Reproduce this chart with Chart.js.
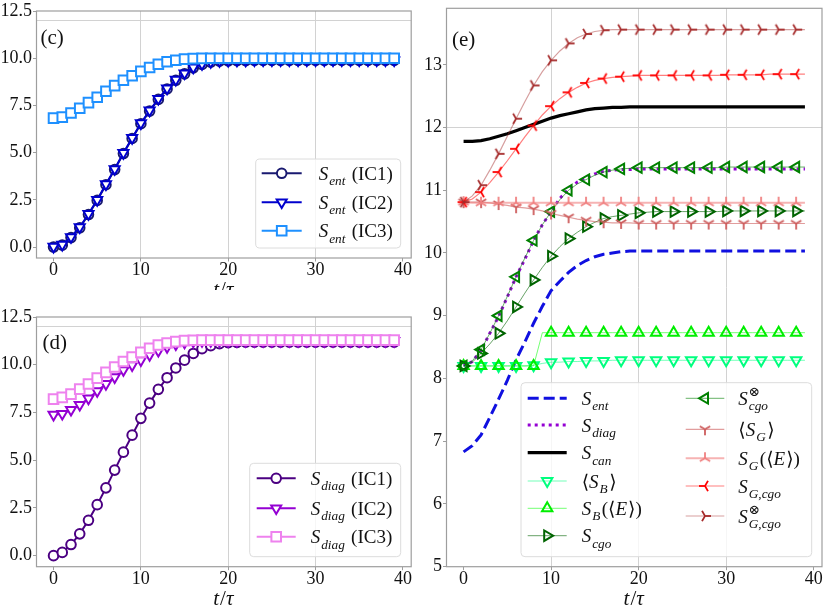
<!DOCTYPE html>
<html>
<head>
<meta charset="utf-8">
<script src="https://cdn.jsdelivr.net/npm/chart.js@4.4.0/dist/chart.umd.min.js"></script>
<style>
  html, body { margin: 0; padding: 0; background: #fff; }
  #page { position: relative; width: 830px; height: 610px; overflow: hidden; }
  .pane { position: absolute; }
</style>
</head>
<body>
<div id="page">
  <div class="pane" style="left:0;top:0;width:420px;height:290px"><canvas id="panelC" width="420" height="290"></canvas></div>
  <div class="pane" style="left:0;top:290px;width:420px;height:320px"><canvas id="panelD" width="420" height="320"></canvas></div>
  <div class="pane" style="left:420px;top:0;width:410px;height:610px"><canvas id="panelE" width="410" height="610"></canvas></div>
</div>
<script>
// ─── Data ───────────────────────────────────────────────────
const tau = [0, 1, 2, 3, 4, 5, 6, 7, 8, 9, 10, 11, 12, 13, 14, 15, 16, 17, 18, 19,
             20, 21, 22, 23, 24, 25, 26, 27, 28, 29, 30, 31, 32, 33, 34, 35, 36, 37, 38, 39];

const xTicks = [0, 10, 20, 30, 40];
const xGrid = [10, 20, 30];
const yTicksCD = [0, 2.5, 5, 7.5, 10, 12.5];
const yTicksE = [5, 6, 7, 8, 9, 10, 11, 12, 13];
const yGrid = [12];

// panel (c)
const sEntIC1 = [0.00, 0.10, 0.50, 1.02, 1.72, 2.47, 3.30, 4.10, 4.95, 5.75,
                 6.53, 7.20, 7.82, 8.37, 8.83, 9.17, 9.49, 9.67, 9.79, 9.84,
                 9.86, 9.87, 9.87, 9.88, 9.88, 9.88, 9.88, 9.88, 9.88, 9.88,
                 9.88, 9.88, 9.88, 9.88, 9.88, 9.88, 9.88, 9.88, 9.88, 9.88];
const sEntIC2 = [0.02, 0.13, 0.53, 1.05, 1.75, 2.50, 3.33, 4.13, 4.98, 5.78,
                 6.56, 7.23, 7.85, 8.40, 8.86, 9.20, 9.51, 9.69, 9.80, 9.85,
                 9.87, 9.88, 9.88, 9.89, 9.89, 9.89, 9.89, 9.89, 9.89, 9.89,
                 9.89, 9.89, 9.89, 9.89, 9.89, 9.89, 9.89, 9.89, 9.89, 9.89];
const sEntIC3 = [6.83, 6.88, 7.10, 7.35, 7.65, 7.93, 8.25, 8.55, 8.83, 9.07,
                 9.30, 9.51, 9.68, 9.81, 9.89, 9.95, 9.98, 9.99, 10.00, 10.00,
                 10.00, 10.00, 10.00, 10.00, 10.00, 10.00, 10.00, 10.00, 10.00, 10.00,
                 10.00, 10.00, 10.00, 10.00, 10.00, 10.00, 10.00, 10.00, 10.00, 10.00];

// panel (d)
const sDiagIC1 = [0.00, 0.17, 0.58, 1.14, 1.85, 2.67, 3.55, 4.48, 5.42, 6.31,
                  7.19, 7.99, 8.71, 9.32, 9.83, 10.24, 10.59, 10.84, 11.00, 11.10,
                  11.15, 11.17, 11.18, 11.18, 11.18, 11.18, 11.18, 11.18, 11.18, 11.18,
                  11.18, 11.18, 11.18, 11.18, 11.18, 11.18, 11.18, 11.18, 11.18, 11.18];
const sDiagIC2 = [7.38, 7.43, 7.64, 7.90, 8.23, 8.62, 8.99, 9.35, 9.72, 9.98,
                  10.24, 10.51, 10.73, 10.93, 11.07, 11.17, 11.22, 11.24, 11.25, 11.25,
                  11.25, 11.25, 11.25, 11.25, 11.25, 11.25, 11.25, 11.25, 11.25, 11.25,
                  11.25, 11.25, 11.25, 11.25, 11.25, 11.25, 11.25, 11.25, 11.25, 11.25];
const sDiagIC3 = [8.20, 8.29, 8.46, 8.72, 8.99, 9.30, 9.60, 9.88, 10.17, 10.40,
                  10.65, 10.86, 11.03, 11.14, 11.21, 11.26, 11.28, 11.29, 11.29, 11.29,
                  11.29, 11.29, 11.29, 11.29, 11.29, 11.29, 11.29, 11.29, 11.29, 11.29,
                  11.29, 11.29, 11.29, 11.29, 11.29, 11.29, 11.29, 11.29, 11.29, 11.29];

// panel (e)
const eEnt = [6.83, 6.93, 7.10, 7.38, 7.67, 7.97, 8.30, 8.58, 8.88, 9.15,
              9.40, 9.55, 9.69, 9.80, 9.88, 9.94, 9.98, 10.00, 10.02, 10.03,
              10.03, 10.03, 10.03, 10.03, 10.03, 10.03, 10.03, 10.03, 10.03, 10.03,
              10.03, 10.03, 10.03, 10.03, 10.03, 10.03, 10.03, 10.03, 10.03, 10.03];
const eDiag = [8.20, 8.27, 8.45, 8.72, 8.99, 9.30, 9.62, 9.90, 10.20, 10.45,
               10.66, 10.87, 11.02, 11.13, 11.20, 11.26, 11.30, 11.32, 11.33, 11.33,
               11.34, 11.34, 11.34, 11.34, 11.34, 11.34, 11.34, 11.34, 11.34, 11.34,
               11.34, 11.34, 11.34, 11.34, 11.34, 11.34, 11.34, 11.34, 11.34, 11.34];
const eCan = [11.78, 11.78, 11.79, 11.82, 11.86, 11.90, 11.95, 12.00, 12.05, 12.10,
              12.15, 12.19, 12.22, 12.25, 12.28, 12.30, 12.31, 12.32, 12.32, 12.33,
              12.33, 12.33, 12.33, 12.33, 12.33, 12.33, 12.33, 12.33, 12.33, 12.33,
              12.33, 12.33, 12.33, 12.33, 12.33, 12.33, 12.33, 12.33, 12.33, 12.33];
const eSBavg = [8.20, 8.20, 8.20, 8.20, 8.20, 8.20, 8.20, 8.20, 8.21, 8.24,
                8.26, 8.26, 8.27, 8.27, 8.28, 8.28, 8.28, 8.29, 8.29, 8.29,
                8.29, 8.29, 8.29, 8.29, 8.29, 8.29, 8.29, 8.29, 8.29, 8.29,
                8.29, 8.29, 8.29, 8.29, 8.29, 8.29, 8.29, 8.29, 8.29, 8.29];
const eSBE = [8.20, 8.20, 8.20, 8.20, 8.20, 8.20, 8.20, 8.20, 8.20, 8.73,
              8.73, 8.73, 8.73, 8.73, 8.73, 8.73, 8.73, 8.73, 8.73, 8.73,
              8.73, 8.73, 8.73, 8.73, 8.73, 8.73, 8.73, 8.73, 8.73, 8.73,
              8.73, 8.73, 8.73, 8.73, 8.73, 8.73, 8.73, 8.73, 8.73, 8.73];
const eCgo = [8.20, 8.26, 8.40, 8.55, 8.72, 8.92, 9.14, 9.36, 9.57, 9.77,
              9.95, 10.10, 10.23, 10.33, 10.42, 10.49, 10.55, 10.58, 10.60, 10.62,
              10.64, 10.65, 10.66, 10.66, 10.66, 10.66, 10.66, 10.66, 10.66, 10.66,
              10.67, 10.67, 10.67, 10.67, 10.67, 10.67, 10.67, 10.67, 10.67, 10.67];
const eCgoX = [8.20, 8.28, 8.46, 8.72, 9.00, 9.31, 9.62, 9.92, 10.20, 10.45,
               10.66, 10.85, 11.00, 11.10, 11.17, 11.24, 11.29, 11.32, 11.34, 11.35,
               11.36, 11.36, 11.36, 11.36, 11.36, 11.36, 11.36, 11.36, 11.36, 11.36,
               11.37, 11.37, 11.37, 11.37, 11.37, 11.37, 11.37, 11.37, 11.37, 11.37];
const eSGavg = [10.81, 10.81, 10.81, 10.80, 10.78, 10.76, 10.73, 10.72, 10.70, 10.67,
                10.63, 10.60, 10.57, 10.54, 10.52, 10.50, 10.49, 10.48, 10.48, 10.48,
                10.47, 10.47, 10.47, 10.47, 10.47, 10.47, 10.47, 10.47, 10.47, 10.47,
                10.47, 10.47, 10.47, 10.47, 10.47, 10.47, 10.47, 10.47, 10.47, 10.47];
const eSGE = [10.81, 10.80, 10.80, 10.80, 10.80, 10.80, 10.80, 10.80, 10.80, 10.80,
              10.80, 10.80, 10.80, 10.80, 10.80, 10.80, 10.80, 10.80, 10.80, 10.80,
              10.80, 10.80, 10.80, 10.80, 10.80, 10.80, 10.80, 10.80, 10.80, 10.80,
              10.80, 10.80, 10.80, 10.80, 10.80, 10.80, 10.80, 10.80, 10.80, 10.80];
const eSGcgo = [10.81, 10.86, 10.97, 11.12, 11.29, 11.47, 11.66, 11.85, 12.03, 12.20,
                12.34, 12.46, 12.56, 12.64, 12.71, 12.75, 12.78, 12.80, 12.81, 12.82,
                12.83, 12.83, 12.83, 12.83, 12.83, 12.83, 12.83, 12.83, 12.83, 12.83,
                12.84, 12.84, 12.84, 12.84, 12.84, 12.85, 12.85, 12.85, 12.85, 12.85];
const eSGcgoX = [10.81, 10.91, 11.08, 11.32, 11.58, 11.86, 12.14, 12.41, 12.67, 12.89,
                 13.07, 13.22, 13.34, 13.43, 13.49, 13.53, 13.55, 13.56, 13.56, 13.56,
                 13.56, 13.56, 13.56, 13.56, 13.56, 13.56, 13.56, 13.56, 13.56, 13.56,
                 13.56, 13.56, 13.56, 13.56, 13.56, 13.56, 13.56, 13.56, 13.56, 13.56];

// ─── Styling helpers ────────────────────────────────────────
const SERIF = '"Liberation Serif", "DejaVu Serif", serif';
const SPINE = '#9e9e9e';
const GRID = '#d2d2d2';
const INK = '#111';
const LEG_SIZE = 19;

Chart.defaults.font.family = SERIF;
Chart.defaults.color = INK;

function xy(arr) {
    return tau.map((t, i) => ({ x: t, y: arr[i] }));
}

// matplotlib-like "tri" marker (three spokes), drawn once as an image
function triMarker(color) {
    const c = document.createElement('canvas');
    c.width = 14; c.height = 14;
    const g = c.getContext('2d');
    g.strokeStyle = color;
    g.lineWidth = 1.8;
    [[0, 1], [-0.866, -0.5], [0.866, -0.5]].forEach(([dx, dy]) => {
        g.beginPath();
        g.moveTo(7, 7);
        g.lineTo(7 + dx * 6, 7 + dy * 6);
        g.stroke();
    });
    return c;
}

const every2 = r => ctx => (ctx.dataIndex % 2 === 0 ? r : 0);

function series(label, arr, color, extra) {
    return Object.assign({
        label: label, data: xy(arr),
        borderColor: color, borderWidth: 2, tension: 0, fill: false,
        pointRadius: 0, pointHoverRadius: 0, pointHitRadius: 0, mkR: 0
    }, extra || {});
}

function marked(label, arr, color, style, rot, r, extra) {
    return series(label, arr, color, Object.assign({
        pointStyle: style, pointRotation: rot, pointRadius: r, mkR: r,
        pointBorderColor: color, pointBackgroundColor: '#fff', pointBorderWidth: 2
    }, extra || {}));
}

// ─── Rich text (sub/superscripts, italic maths) ─────────────
function parseRich(s) {
    const out = [];
    let math = false, i = 0;
    while (i < s.length) {
        const c = s[i];
        if (c === '$') { math = !math; i++; continue; }
        if (math && (c === '_' || c === '^')) {
            i++;
            let g;
            if (s[i] === '{') { const j = s.indexOf('}', i); g = s.slice(i + 1, j); i = j + 1; }
            else { g = s[i]; i++; }
            out.push({ t: g, lv: c === '_' ? 'sub' : 'sup', math: true });
            continue;
        }
        out.push({ t: c, lv: 'base', math: math });
        i++;
    }
    return out;
}

const isLetter = ch => /[A-Za-z\u03b1-\u03c9]/.test(ch);
const fontStr = (size, it) => (it ? 'italic ' : '') + size + 'px ' + SERIF;

function drawRich(ctx, s, x, y, size, dry) {
    const toks = parseRich(s);
    ctx.textAlign = 'left';
    ctx.textBaseline = 'alphabetic';
    let i = 0;
    while (i < toks.length) {
        const tk = toks[i];
        if (tk.lv === 'base') {
            const it = tk.math && isLetter(tk.t);
            ctx.font = fontStr(size, it);
            if (!dry) ctx.fillText(tk.t, x, y);
            x += ctx.measureText(tk.t).width + (it ? size * 0.05 : 0);
            i++;
        } else {
            const grp = [tk];
            if (toks[i + 1] && toks[i + 1].lv !== 'base' && toks[i + 1].lv !== tk.lv) grp.push(toks[i + 1]);
            let w = 0;
            grp.forEach(g => {
                const dy = g.lv === 'sub' ? size * 0.28 : -size * 0.45;
                let xx = x;
                for (const ch of g.t) {
                    ctx.font = fontStr(size * 0.7, isLetter(ch));
                    if (!dry) ctx.fillText(ch, xx, y + dy);
                    xx += ctx.measureText(ch).width;
                }
                w = Math.max(w, xx - x);
            });
            x += w + size * 0.08;
            i += grp.length;
        }
    }
    return x;
}

// ─── Plugins ────────────────────────────────────────────────
const framePlugin = {
    id: 'frame',
    afterDatasetsDraw(chart) {
        const { ctx, chartArea: a } = chart;
        ctx.save();
        ctx.strokeStyle = SPINE;
        ctx.lineWidth = 1.2;
        ctx.strokeRect(a.left, a.top, a.right - a.left, a.bottom - a.top);
        ctx.restore();
    }
};

const textPlugin = {
    id: 'panelText',
    afterDraw(chart, args, o) {
        const { ctx, chartArea: a } = chart;
        ctx.save();
        ctx.fillStyle = INK;
        ctx.font = '21px ' + SERIF;
        ctx.textAlign = 'left';
        ctx.textBaseline = 'middle';
        ctx.fillText(o.tag, a.left + o.tagX, a.top + o.tagY);
        // axis title t/τ
        const w = drawRich(ctx, '$t/τ$', 0, 0, 21, true);
        drawRich(ctx, '$t/τ$', (a.left + a.right) / 2 - w / 2, a.bottom + 38, 21);
        ctx.restore();
    }
};

const legendPlugin = {
    id: 'richLegend',
    afterDraw(chart, args, o) {
        const { ctx, chartArea: a } = chart;
        const bx = a.right - o.dx - o.w, by = a.bottom - o.dy - o.h;
        ctx.save();
        ctx.beginPath();
        ctx.roundRect(bx, by, o.w, o.h, 4);
        ctx.fillStyle = 'rgba(255,255,255,0.8)';
        ctx.fill();
        ctx.strokeStyle = '#dcdcdc';
        ctx.lineWidth = 1;
        ctx.stroke();
        o.cols.forEach(col => col.items.forEach((di, k) => {
            const ds = chart.data.datasets[di];
            const y = by + col.ys[k];
            ctx.setLineDash(ds.borderDash || []);
            ctx.lineCap = 'butt';
            ctx.lineWidth = ds.borderWidth;
            ctx.strokeStyle = ds.borderColor;
            ctx.beginPath();
            ctx.moveTo(bx + col.x0, y);
            ctx.lineTo(bx + col.x1, y);
            ctx.stroke();
            ctx.setLineDash([]);
            if (ds.mkR) {
                ctx.strokeStyle = ds.pointBorderColor;
                ctx.fillStyle = ds.pointBackgroundColor;
                ctx.lineWidth = ds.pointBorderWidth;
                Chart.helpers.drawPoint(ctx, {
                    pointStyle: ds.pointStyle, rotation: ds.pointRotation || 0,
                    radius: ds.mkR, borderWidth: ds.pointBorderWidth
                }, bx + (col.x0 + col.x1) / 2, y);
            }
            ctx.fillStyle = INK;
            drawRich(ctx, ds.label, bx + col.tx, y + 6.5, LEG_SIZE);
        }));
        ctx.restore();
    }
};

// ─── Panel factory ──────────────────────────────────────────
function makePanel(id, p) {
    const yAll = p.yTicks.concat(yGrid.filter(v => !p.yTicks.includes(v))).sort((a, b) => a - b);
    p.datasets.forEach((d, i) => { d.order = p.datasets.length - i; });
    return new Chart(document.getElementById(id), {
        type: 'line',
        data: { datasets: p.datasets },
        options: {
            responsive: false,
            animation: false,
            events: [],
            layout: { padding: { top: p.area.top, right: p.area.right, left: 0, bottom: 0 } },
            plugins: {
                legend: { display: false },
                tooltip: { enabled: false },
                richLegend: p.legend,
                panelText: { tag: p.tag, tagX: p.tagX, tagY: p.tagY }
            },
            scales: {
                x: {
                    type: 'linear', min: -1.95, max: 40.95,
                    afterBuildTicks: s => { s.ticks = xTicks.map(v => ({ value: v })); },
                    afterFit: s => { s.height = p.area.xH; s.paddingLeft = 0; s.paddingRight = 0; },
                    grid: {
                        color: c => (xGrid.includes(c.tick.value) ? GRID : 'rgba(0,0,0,0)'),
                        lineWidth: 1, tickLength: 3.5, tickColor: SPINE
                    },
                    border: { display: false },
                    ticks: {
                        font: { family: SERIF, size: 18 }, color: INK, padding: -2,
                        maxRotation: 0, autoSkip: false, callback: v => String(v)
                    }
                },
                y: {
                    type: 'linear', min: p.yMin, max: p.yMax,
                    afterBuildTicks: s => { s.ticks = yAll.map(v => ({ value: v })); },
                    afterFit: s => { s.width = p.area.yW; s.paddingTop = 0; s.paddingBottom = 0; },
                    grid: {
                        color: c => (yGrid.includes(c.tick.value) ? GRID : 'rgba(0,0,0,0)'),
                        lineWidth: 1, tickLength: 3.5,
                        tickColor: c => (p.yTicks.includes(c.tick.value) ? SPINE : 'rgba(0,0,0,0)')
                    },
                    border: { display: false },
                    ticks: {
                        font: { family: SERIF, size: 18 }, color: INK, padding: 1, autoSkip: false,
                        callback: v => (p.yTicks.includes(v) ? p.yFmt(v) : '')
                    }
                }
            }
        },
        plugins: [framePlugin, legendPlugin, textPlugin]
    });
}

// ─── Panel (c) ──────────────────────────────────────────────
makePanel('panelC', {
    datasets: [
        marked('$S_{ent}$ (IC1)', sEntIC1, '#191970', 'circle', 0, 4.8),
        marked('$S_{ent}$ (IC2)', sEntIC2, '#0000CD', 'triangle', 180, 5.8),
        marked('$S_{ent}$ (IC3)', sEntIC3, '#1E90FF', 'rect', 0, 6.8)
    ],
    yMin: -0.58, yMax: 12.5, yTicks: yTicksCD, yFmt: v => v.toFixed(1),
    area: { top: 11, right: 2.5, yW: 36.5, xH: 32 },
    tag: '(c)', tagX: 4, tagY: 27,
    legend: { dx: 10.5, dy: 10, w: 145, h: 89,
              cols: [{ items: [0, 1, 2], ys: [14.3, 43.3, 71.7], x0: 6, x1: 46, tx: 63 }] }
});

// ─── Panel (d) ──────────────────────────────────────────────
makePanel('panelD', {
    datasets: [
        marked('$S_{diag}$ (IC1)', sDiagIC1, '#4B0082', 'circle', 0, 4.8),
        marked('$S_{diag}$ (IC2)', sDiagIC2, '#9400D3', 'triangle', 180, 5.8),
        marked('$S_{diag}$ (IC3)', sDiagIC3, '#EE82EE', 'rect', 0, 6.8)
    ],
    yMin: -0.58, yMax: 12.5, yTicks: yTicksCD, yFmt: v => v.toFixed(1),
    area: { top: 27, right: 2.5, yW: 36.5, xH: 43.3 },
    tag: '(d)', tagX: 6, tagY: 26,
    legend: { dx: 10.5, dy: 10, w: 151, h: 93.4,
              cols: [{ items: [0, 1, 2], ys: [15, 45, 73.4], x0: 7, x1: 46, tx: 61 }] }
});

// ─── Panel (e) ──────────────────────────────────────────────
const hollow = { pointBackgroundColor: 'rgba(0,0,0,0)' };
function markE(label, arr, color, lineColor, lw, style, rot, r) {
    return marked(label, arr, lineColor, style, rot, r, Object.assign({
        borderWidth: lw, pointRadius: every2(r), pointBorderColor: color
    }, hollow));
}

makePanel('panelE', {
    datasets: [
        series('$S_{ent}$', eEnt, '#1010e0', { borderWidth: 3, borderDash: [11, 5] }),
        series('$S_{diag}$', eDiag, '#9400D3', { borderWidth: 3, borderDash: [3, 4] }),
        series('$S_{can}$', eCan, '#000000', { borderWidth: 3.2 }),
        markE('$⟨S_B⟩$', eSBavg, '#00FF7F', 'rgba(0,255,127,0.55)', 1, 'triangle', 180, 6),
        markE('$S_B(⟨E⟩)$', eSBE, '#00EE00', 'rgba(0,255,0,0.55)', 1, 'triangle', 0, 6),
        markE('$S_{cgo}$', eCgo, '#006400', 'rgba(0,100,0,0.6)', 1, 'triangle', 90, 6),
        markE('$S_{cgo}^{⊗}$', eCgoX, '#008000', 'rgba(0,128,0,0.6)', 1, 'triangle', -90, 6),
        markE('$⟨S_G⟩$', eSGavg, '#CD5C5C', 'rgba(205,92,92,0.6)', 1.2, triMarker('#CD5C5C'), 0, 6),
        markE('$S_G(⟨E⟩)$', eSGE, '#F08080', 'rgba(240,128,128,0.6)', 2, triMarker('#F08080'), 180, 6),
        markE('$S_{G,cgo}$', eSGcgo, '#FF0000', 'rgba(255,0,0,0.5)', 1.2, triMarker('#FF0000'), 90, 6),
        markE('$S_{G,cgo}^{⊗}$', eSGcgoX, '#A52A2A', 'rgba(165,42,42,0.45)', 1.2, triMarker('#A52A2A'), -90, 6)
    ],
    yMin: 5, yMax: 13.9, yTicks: yTicksE, yFmt: v => String(v),
    area: { top: 8.3, right: 3, yW: 26.5, xH: 43.3 },
    tag: '(e)', tagX: 5.5, tagY: 32,
    legend: { dx: 10.3, dy: 10, w: 290.7, h: 174,
              cols: [
                  { items: [0, 1, 2, 3, 4, 5], ys: [15.6, 42.3, 70, 98.3, 125.6, 153], x0: 6.7, x1: 45.7, tx: 60.7 },
                  { items: [6, 7, 8, 9, 10], ys: [15.6, 46.6, 75.6, 103.3, 133.3], x0: 164.7, x1: 203.3, tx: 217.3 }
              ] }
});
</script>
</body>
</html>
